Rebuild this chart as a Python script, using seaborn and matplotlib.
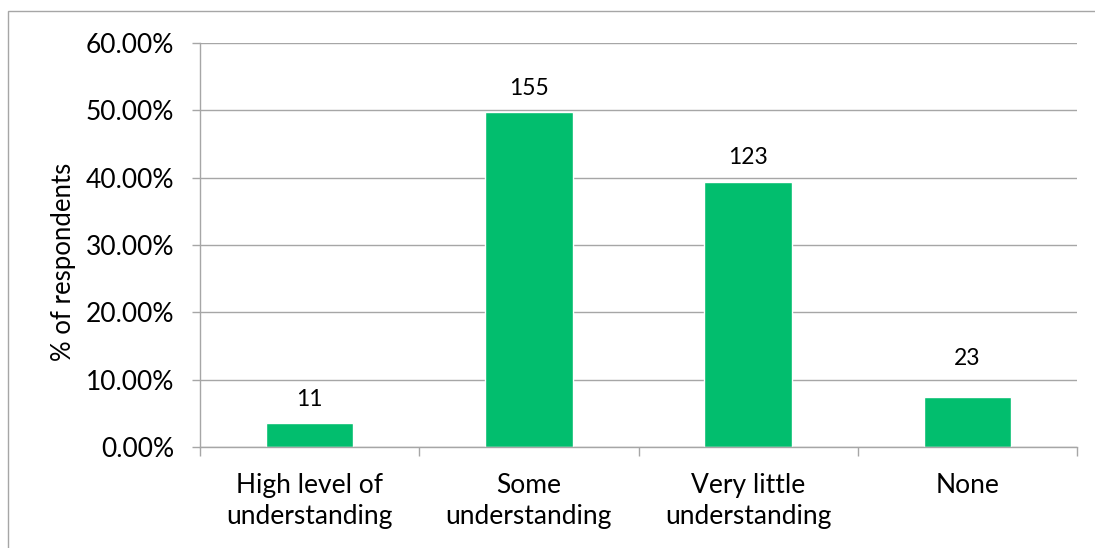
import matplotlib
matplotlib.use("Agg")
import matplotlib.pyplot as plt
from matplotlib.patches import Rectangle
from matplotlib.ticker import PercentFormatter
import seaborn as sns
import pandas as pd

categories = ["High level of\nunderstanding", "Some\nunderstanding",
              "Very little\nunderstanding", "None"]
counts = [11, 155, 123, 23]
total = sum(counts)
shares = [c / total * 100 for c in counts]

df = pd.DataFrame({"category": categories, "share": shares, "count": counts})

sns.set_theme(style="white")
plt.rcParams["font.family"] = ["Lato", "DejaVu Sans"]

W, H = 1095, 548
fig = plt.figure(figsize=(W / 100, H / 100), dpi=100)
ax = fig.add_axes([200 / W, 1 - 447 / H, (1077 - 200) / W, (447 - 43) / H])

sns.barplot(data=df, x="category", y="share", color="#02BE6E",
            saturation=1, width=0.4, ax=ax)

ax.set_ylim(0, 60)
ax.set_xlim(-0.5, 3.5)
ax.set_yticks(range(0, 61, 10))
ax.yaxis.set_major_formatter(PercentFormatter(decimals=2))
ax.grid(axis="y", color="#a6a6a6", linewidth=1)
ax.set_axisbelow(True)

for s in ["top", "right"]:
    ax.spines[s].set_visible(False)
for s in ["left", "bottom"]:
    ax.spines[s].set_color("#a6a6a6")
    ax.spines[s].set_linewidth(1)

ax.tick_params(axis="y", which="major", left=True, length=5.8, width=1,
               color="#a6a6a6", labelsize=19, pad=13, labelcolor="black")
ax.set_xticks([-0.5, 0.5, 1.5, 2.5, 3.5], minor=True)
ax.tick_params(axis="x", which="major", bottom=False, length=0,
               labelsize=19, pad=19, labelcolor="black")
ax.tick_params(axis="x", which="minor", bottom=True, length=6.5, width=1,
               color="#a6a6a6")
for lbl in ax.get_xticklabels():
    lbl.set_linespacing(1.28)

ax.set_xlabel("")
ax.set_ylabel("% of respondents", fontsize=18.5, color="black")
ax.yaxis.set_label_coords(64 / W, 1 - 262 / H, transform=fig.transFigure)
ax.yaxis.label.set_va("center")

# value labels above the bars; the last one sits a little higher
for i, (v, c) in enumerate(zip(shares, counts)):
    lift = 23 if i == len(counts) - 1 else 12.5
    ax.annotate(str(c), (i, v), xytext=(0, lift), textcoords="offset points",
                ha="center", va="baseline", fontsize=16.5, color="black")

# chart frame
fig.patches.append(Rectangle((8 / W, -0.1), 1.2, 1 - 11 / H + 0.1,
                             transform=fig.transFigure, fill=False,
                             edgecolor="#a6a6a6", linewidth=1))

fig.savefig("out.png", dpi=100, facecolor="white")
